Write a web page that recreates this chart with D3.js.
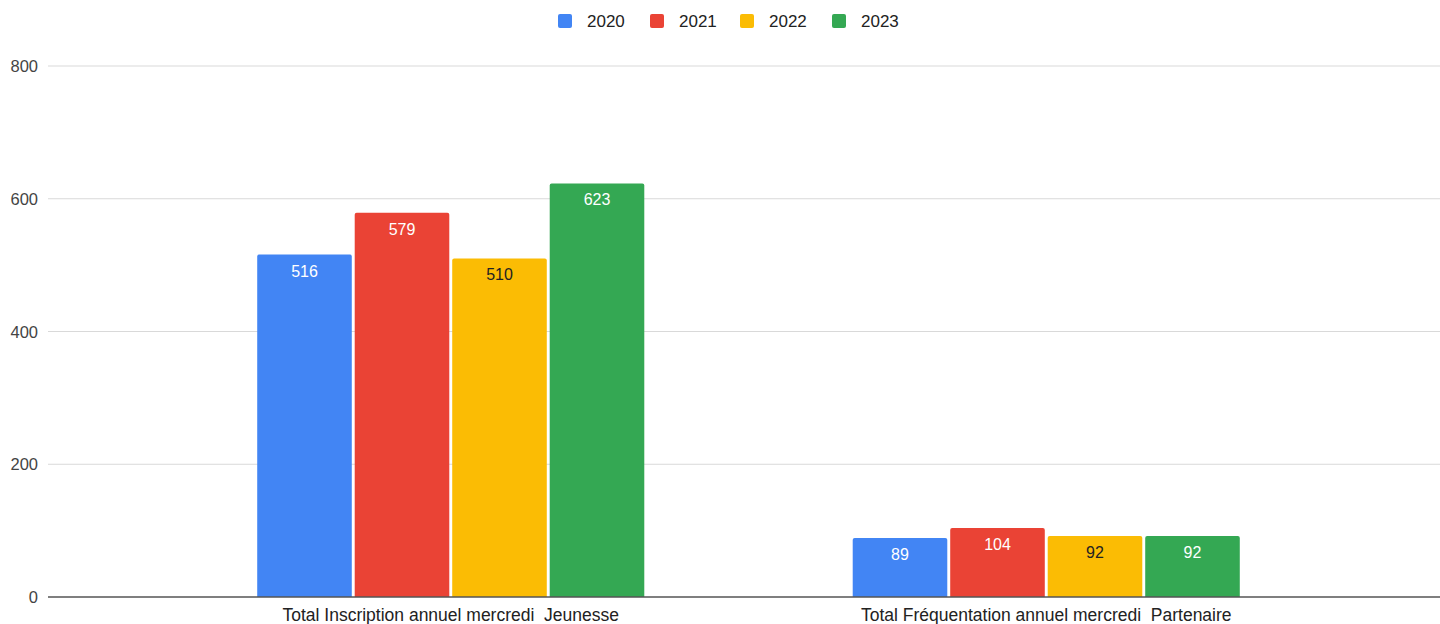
<!DOCTYPE html>
<html>
<head>
<meta charset="utf-8">
<script src="https://cdn.jsdelivr.net/npm/d3@7"></script>
<style>
  body { margin: 0; background: #fff; }
  text { font-family: Arial, "Liberation Sans", sans-serif; }
</style>
</head>
<body>
<div id="chart"></div>
<script>
const WIDTH = 1440, HEIGHT = 624;

const categories = ["Total Inscription annuel mercredi  Jeunesse", "Total Fréquentation annuel mercredi  Partenaire"];
const years = ["2020", "2021", "2022", "2023"];
const colors = ["#4285f4", "#ea4335", "#fbbc04", "#34a853"];
const labelColors = ["#ffffff", "#ffffff", "#222222", "#ffffff"];
const values2020 = [516, 89];
const values2021 = [579, 104];
const values2022 = [510, 92];
const values2023 = [623, 92];
const yTicks = [0, 200, 400, 600, 800];

const series = [values2020, values2021, values2022, values2023];

let svg = d3.select("#chart").append("svg")
    .attr("width", WIDTH).attr("height", HEIGHT);

let y = d3.scaleLinear().domain([0, 800]).range([597, 66]);
let x0 = d3.scaleBand().domain(categories).range([153, 1344]).paddingInner(0.35).paddingOuter(0.175);
let x1 = d3.scaleBand().domain(years).range([0, x0.bandwidth()]).paddingInner(0.03);

// gridlines
svg.append("g").selectAll("line").data(yTicks.filter(d => d > 0)).enter().append("line")
    .attr("x1", 48).attr("x2", WIDTH)
    .attr("y1", d => y(d)).attr("y2", d => y(d))
    .attr("stroke", "#d9d9d9").attr("stroke-width", 1);

// y axis labels
svg.append("g").selectAll("text").data(yTicks).enter().append("text")
    .attr("x", 38).attr("y", d => y(d) + 6)
    .attr("text-anchor", "end")
    .attr("font-size", 16.5).attr("fill", "#444")
    .text(d => d);

// bars
let groups = svg.append("g").selectAll("g").data(categories).enter().append("g")
    .attr("transform", d => `translate(${x0(d)},0)`);

groups.each(function(cat, ci) {
    let g = d3.select(this);
    years.forEach((yr, si) => {
        let v = series[si][ci];
        g.append("path")
            .attr("d", () => {
                let bx = x1(yr), bw = x1.bandwidth(), top = y(v), bottom = y(0), r = 2;
                return `M${bx},${bottom}V${top + r}Q${bx},${top} ${bx + r},${top}H${bx + bw - r}Q${bx + bw},${top} ${bx + bw},${top + r}V${bottom}Z`;
            })
            .attr("fill", colors[si]);
        g.append("text")
            .attr("x", x1(yr) + x1.bandwidth() / 2)
            .attr("y", y(v) + 22)
            .attr("text-anchor", "middle")
            .attr("font-size", 16)
            .attr("fill", labelColors[si])
            .text(v);
    });
});

// baseline
svg.append("line")
    .attr("x1", 48).attr("x2", WIDTH)
    .attr("y1", y(0)).attr("y2", y(0))
    .attr("stroke", "#555").attr("stroke-width", 1.5);

// category labels
svg.append("g").selectAll("text").data(categories).enter().append("text")
    .attr("x", d => x0(d) + x0.bandwidth() / 2)
    .attr("y", 621)
    .attr("text-anchor", "middle")
    .attr("font-size", 17.5).attr("fill", "#222")
    .style("white-space", "pre")
    .attr("xml:space", "preserve")
    .text(d => d);

// legend
let legendX = [558, 650, 740, 832];
let legend = svg.append("g").selectAll("g").data(years).enter().append("g")
    .attr("transform", (d, i) => `translate(${legendX[i]},14)`);
legend.append("rect")
    .attr("width", 14).attr("height", 14).attr("rx", 2)
    .attr("fill", (d, i) => colors[i]);
legend.append("text")
    .attr("x", 29).attr("y", 13)
    .attr("font-size", 17).attr("fill", "#222")
    .text(d => d);
</script>
</body>
</html>
